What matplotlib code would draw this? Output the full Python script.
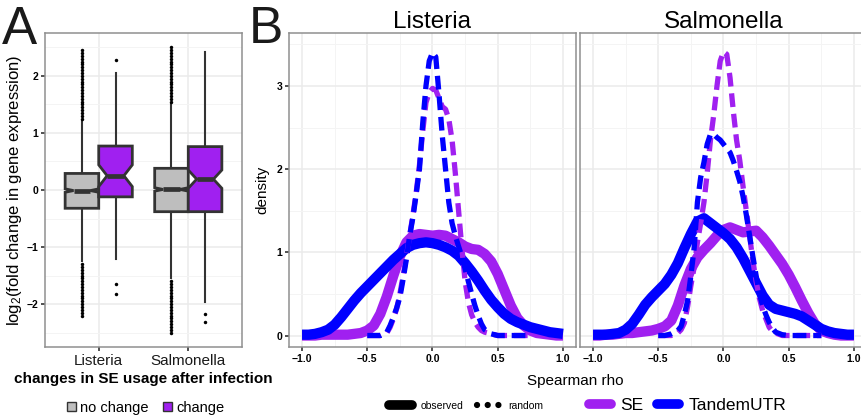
import matplotlib
matplotlib.use('Agg')
import matplotlib.pyplot as plt
from matplotlib.lines import Line2D
from matplotlib.patches import Patch

plt.rcParams['font.family'] = ['Liberation Sans', 'DejaVu Sans']
plt.rcParams['mathtext.default'] = 'regular'

# ---- panel A: log2 fold change, boxplot summaries ----
infections = ['Listeria', 'Salmonella']
usage_groups = ['no change', 'change']
usage_colors = ['#BEBEBE', '#A020F0']

# order: Listeria no change, Listeria change, Salmonella no change, Salmonella change
box_med = [-0.01, 0.25, 0.01, 0.19]
box_q1 = [-0.32, -0.12, -0.38, -0.38]
box_q3 = [0.29, 0.77, 0.38, 0.76]
box_cilo = [-0.04, 0.06, -0.02, 0.03]
box_cihi = [0.02, 0.44, 0.04, 0.35]
whisk_lo = [-1.25, -1.20, -1.55, -1.97]
whisk_hi = [1.20, 2.05, 1.50, 2.42]
fliers = [
    [1.25, 1.3, 1.35, 1.4, 1.45, 1.5, 1.55, 1.6, 1.65, 1.7, 1.75, 1.8, 1.85,
     1.9, 1.95, 2.0, 2.05, 2.1, 2.15, 2.2, 2.25, 2.3, 2.35, 2.4, 2.45,
     -1.3, -1.35, -1.4, -1.45, -1.5, -1.55, -1.6, -1.65, -1.7, -1.75, -1.8,
     -1.85, -1.9, -1.95, -2.0, -2.05, -2.1, -2.15, -2.2],
    [2.27, -1.65, -1.83],
    [1.55, 1.6, 1.65, 1.7, 1.75, 1.8, 1.85, 1.9, 1.95, 2.0, 2.05, 2.1, 2.15,
     2.2, 2.25, 2.3, 2.35, 2.4, 2.45, 2.5,
     -1.6, -1.65, -1.7, -1.75, -1.8, -1.85, -1.9, -1.95, -2.0, -2.05, -2.1,
     -2.15, -2.2, -2.25, -2.3, -2.35, -2.4, -2.45, -2.5],
    [-2.17, -2.32],
]

# ---- panel B: density of Spearman rho ----
rho_obs = [-1.0, -0.95, -0.9, -0.85, -0.8, -0.75, -0.7, -0.65, -0.6, -0.55,
           -0.5, -0.45, -0.4, -0.35, -0.3, -0.25, -0.2, -0.15, -0.1, -0.05,
           0.0, 0.05, 0.1, 0.15, 0.2, 0.25, 0.3, 0.35, 0.4, 0.45,
           0.5, 0.55, 0.6, 0.65, 0.7, 0.75, 0.8, 0.85, 0.9, 0.95, 1.0]
lis_tandem_obs = [0.01, 0.01, 0.02, 0.04, 0.07, 0.13, 0.22, 0.32, 0.42, 0.51,
                  0.59, 0.67, 0.75, 0.83, 0.91, 0.98, 1.05, 1.09, 1.11, 1.12,
                  1.11, 1.09, 1.06, 1.02, 0.96, 0.87, 0.77, 0.66, 0.54, 0.43,
                  0.34, 0.26, 0.20, 0.16, 0.13, 0.10, 0.08, 0.06, 0.04, 0.03, 0.02]
lis_se_obs = [0.0, 0.0, 0.0, 0.01, 0.01, 0.01, 0.01, 0.01, 0.02, 0.03,
              0.06, 0.12, 0.26, 0.47, 0.72, 0.95, 1.12, 1.20, 1.22, 1.21,
              1.20, 1.21, 1.20, 1.16, 1.12, 1.07, 1.04, 1.03, 0.98, 0.89,
              0.74, 0.55, 0.36, 0.21, 0.12, 0.06, 0.03, 0.02, 0.01, 0.0, 0.0]
sal_tandem_obs = [0.01, 0.01, 0.01, 0.02, 0.03, 0.07, 0.14, 0.25, 0.37, 0.46,
                  0.54, 0.62, 0.73, 0.87, 1.05, 1.22, 1.37, 1.41, 1.35, 1.29,
                  1.23, 1.16, 1.06, 0.93, 0.78, 0.63, 0.48, 0.37, 0.32, 0.30,
                  0.28, 0.26, 0.23, 0.18, 0.13, 0.08, 0.05, 0.03, 0.02, 0.01, 0.01]
sal_se_obs = [0.0, 0.0, 0.01, 0.01, 0.02, 0.03, 0.03, 0.04, 0.05, 0.06,
              0.08, 0.11, 0.18, 0.36, 0.60, 0.80, 0.94, 1.03, 1.11, 1.20,
              1.27, 1.30, 1.27, 1.24, 1.25, 1.26, 1.18, 1.08, 0.97, 0.86,
              0.73, 0.58, 0.42, 0.27, 0.14, 0.06, 0.03, 0.01, 0.0, 0.0, 0.0]

rho_rand = [-0.5, -0.45, -0.4, -0.35, -0.325, -0.3, -0.275, -0.25, -0.225, -0.2,
            -0.175, -0.15, -0.125, -0.1, -0.075, -0.05, -0.025, 0.0, 0.025, 0.05,
            0.075, 0.1, 0.125, 0.15, 0.175, 0.2, 0.225, 0.25, 0.275, 0.3,
            0.325, 0.35, 0.375, 0.4, 0.45, 0.5, 0.6, 0.75]
lis_tandem_rand = [0.0, 0.0, 0.0, 0.04, 0.12, 0.22, 0.33, 0.46, 0.68, 0.92,
                   1.2, 1.42, 1.7, 2.0, 2.55, 3.0, 3.3, 3.4, 3.35, 2.9,
                   2.4, 2.0, 1.6, 1.35, 1.2, 1.07, 0.95, 0.8, 0.65, 0.5,
                   0.36, 0.24, 0.14, 0.07, 0.02, 0.0, 0.0, 0.0]
lis_se_rand = [0.0, 0.0, 0.0, 0.03, 0.1, 0.2, 0.32, 0.5, 0.72, 0.95,
               1.2, 1.45, 1.72, 2.05, 2.45, 2.8, 2.92, 2.97, 2.95, 2.85,
               2.75, 2.72, 2.6, 2.35, 1.95, 1.5, 1.05, 0.65, 0.4, 0.25,
               0.16, 0.1, 0.06, 0.04, 0.02, 0.0, 0.0, 0.0]
sal_tandem_rand = [0.0, 0.0, 0.02, 0.06, 0.11, 0.25, 0.42, 0.72, 1.05, 1.6,
                   1.9, 2.08, 2.3, 2.42, 2.42, 2.38, 2.35, 2.3, 2.25, 2.2,
                   2.1, 1.98, 1.85, 1.67, 1.45, 1.2, 0.95, 0.72, 0.5, 0.36,
                   0.25, 0.16, 0.09, 0.04, 0.01, 0.0, 0.0, 0.0]
sal_se_rand = [0.0, 0.0, 0.0, 0.03, 0.07, 0.15, 0.35, 0.6, 0.82, 1.12,
               1.35, 1.6, 1.95, 2.35, 2.65, 3.0, 3.3, 3.41, 3.38, 3.1,
               2.7, 2.35, 2.1, 1.79, 1.5, 1.2, 0.9, 0.65, 0.45, 0.3,
               0.2, 0.1, 0.05, 0.03, 0.0, 0.0, 0.0, 0.0]

gene_sets = ['SE', 'TandemUTR']
set_colors = ['#A020F0', '#0000FF']

grid_major = '#EBEBEB'
grid_minor = '#F4F4F4'
border = '#8F8F8F'
dark = '#333333'

W, H = 862, 418
fig = plt.figure(figsize=(W / 100, H / 100), dpi=100)


def frame(left, right, top, bottom):
    return [left / W, 1 - bottom / H, (right - left) / W, (bottom - top) / H]


def style_axes(ax):
    for sp in ax.spines.values():
        sp.set_color(border)
        sp.set_linewidth(1.1)
    ax.set_axisbelow(True)
    ax.grid(which='major', color=grid_major, lw=1.1)
    ax.grid(which='minor', color=grid_minor, lw=0.7)
    ax.tick_params(which='major', length=3, width=1.2, color=dark,
                   labelsize=7.5, pad=2)
    ax.tick_params(which='minor', length=0)


# ---- panel A ----
axA = fig.add_axes(frame(45, 242, 33, 347))
stats = []
for i in range(4):
    stats.append(dict(med=box_med[i], q1=box_q1[i], q3=box_q3[i],
                      cilo=box_cilo[i], cihi=box_cihi[i],
                      whislo=whisk_lo[i], whishi=whisk_hi[i], fliers=fliers[i]))
positions = [1 - 0.1875, 1 + 0.1875, 2 - 0.1875, 2 + 0.1875]
bp = axA.bxp(stats, positions=positions, widths=0.375, patch_artist=True,
             shownotches=True, showcaps=False,
             boxprops=dict(edgecolor=dark, linewidth=2.0),
             medianprops=dict(color=dark, linewidth=3.4),
             whiskerprops=dict(color=dark, linewidth=1.5),
             flierprops=dict(marker='o', markersize=2.5, markerfacecolor='black',
                             markeredgewidth=0, linestyle='none'))
for i, patch in enumerate(bp['boxes']):
    patch.set_facecolor(usage_colors[i % 2])
    patch.set_zorder(3)
for m in bp['medians']:
    m.set_zorder(4)

style_axes(axA)
axA.set_xlim(0.4, 2.6)
axA.set_ylim(-2.75, 2.75)
axA.set_xticks([1, 2])
axA.set_xticklabels(infections, fontsize=11, fontweight='normal', color='#1A1A1A')
axA.set_yticks([-2, -1, 0, 1, 2])
axA.set_yticklabels(['\u22122', '\u22121', '0', '1', '2'], fontweight='bold')
axA.set_yticks([-2.5, -1.5, -0.5, 0.5, 1.5, 2.5], minor=True)
axA.set_ylabel('log$_2$(fold change in gene expression)', fontsize=12, labelpad=2)
axA.set_xlabel('changes in SE usage after infection', fontsize=11,
               fontweight='bold', labelpad=3)

handlesA = [Patch(facecolor=usage_colors[k], edgecolor=dark, linewidth=1.0)
            for k in range(2)]
fig.legend(handlesA, usage_groups, loc='center', ncol=2, frameon=False,
           bbox_to_anchor=(146 / W, 1 - 408 / H), fontsize=10.5,
           handlelength=0.6, handleheight=0.6, handletextpad=0.3,
           columnspacing=1.0)

# ---- panel B ----
axL = fig.add_axes(frame(289, 576, 33, 347))
axS = fig.add_axes(frame(580, 867, 33, 347))
panels = [
    (axL, 'Listeria', [lis_se_obs, lis_tandem_obs], [lis_se_rand, lis_tandem_rand]),
    (axS, 'Salmonella', [sal_se_obs, sal_tandem_obs], [sal_se_rand, sal_tandem_rand]),
]
for ax, title, obs, rand in panels:
    for k in range(2):
        ax.plot(rho_obs, obs[k], color=set_colors[k], lw=7.4,
                solid_capstyle='butt', solid_joinstyle='round', zorder=3)
    for k in range(2):
        ax.plot(rho_rand, rand[k], color=set_colors[k], lw=3.8,
                linestyle=(0, (2.6, 1.3)), dash_capstyle='butt', zorder=4)
    style_axes(ax)
    ax.set_xlim(-1.1, 1.1)
    ax.set_ylim(-0.138, 3.636)
    ax.set_xticks([-1, -0.5, 0, 0.5, 1])
    ax.set_xticklabels(['\u22121.0', '\u22120.5', '0.0', '0.5', '1.0'],
                       fontweight='bold')
    ax.set_xticks([-0.75, -0.25, 0.25, 0.75], minor=True)
    ax.set_yticks([0, 1, 2, 3])
    ax.set_yticks([0.5, 1.5, 2.5, 3.5], minor=True)
    ax.set_title(title, fontsize=17.5, pad=3)

axL.set_yticklabels(['0', '1', '2', '3'], fontweight='bold')
axL.set_ylabel('density', fontsize=11, labelpad=5)
axS.tick_params(axis='y', which='both', length=0, labelleft=False)

fig.text(575 / W, 1 - 381 / H, 'Spearman rho', ha='center', va='center',
         fontsize=11)

handlesT = [Line2D([0], [0], color='black', lw=7, solid_capstyle='round'),
            Line2D([0], [0], color='black', lw=4.5,
                   linestyle=(0, (0.01, 1.7)), dash_capstyle='round')]
fig.legend(handlesT, ['observed', 'random'], loc='center left', ncol=2,
           frameon=False, bbox_to_anchor=(380 / W, 1 - 406 / H), fontsize=7.5,
           handlelength=2.2, handletextpad=0.8, columnspacing=1.3)
handlesC = [Line2D([0], [0], color=c, lw=7, solid_capstyle='round')
            for c in set_colors]
fig.legend(handlesC, gene_sets, loc='center left', ncol=2, frameon=False,
           bbox_to_anchor=(573 / W, 1 - 405 / H), fontsize=12.5,
           handlelength=1.3, handletextpad=0.5, columnspacing=0.8)

fig.text(2 / W, 1 - 5 / H, 'A', fontsize=38, va='top', ha='left', color='#1A1A1A')
fig.text(249 / W, 1 - 5 / H, 'B', fontsize=37, va='top', ha='left', color='#1A1A1A')

fig.savefig('out.png', dpi=100)
